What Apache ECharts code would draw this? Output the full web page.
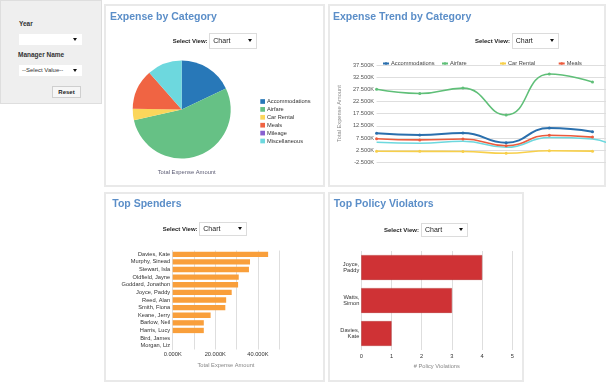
<!DOCTYPE html>
<html><head><meta charset="utf-8">
<script src="https://cdn.jsdelivr.net/npm/echarts@6/dist/echarts.min.js"></script>
<style>
html,body{margin:0;padding:0;background:#fff;width:608px;height:389px;overflow:hidden;font-family:"Liberation Sans",Arial,sans-serif;}
.panel{position:absolute;background:#fff;box-shadow:inset 0 0 0 2px #e9e9e9;overflow:hidden;}
.filter{position:absolute;left:0;top:0;width:102px;height:104px;background:#efefef;box-shadow:inset 0 0 0 1px #dedede;}
.lbl{position:absolute;font-size:6.5px;font-weight:bold;color:#333;white-space:nowrap;line-height:8px;}
.title{position:absolute;font-size:10.5px;font-weight:bold;color:#5b8ec8;white-space:nowrap;line-height:12px;z-index:2;}
.sv{position:absolute;font-size:6px;font-weight:bold;color:#222;white-space:nowrap;line-height:8px;z-index:2;}
.sel{position:absolute;background:#fff;border:1px solid #dcdcdc;box-sizing:border-box;color:#222;z-index:2;}
.sel .t{position:absolute;left:3px;top:50%;transform:translateY(-50%);line-height:8px;font-size:7px;white-space:nowrap;}
.sel .a{position:absolute;right:4px;top:50%;margin-top:-1.5px;width:0;height:0;border-left:2.5px solid transparent;border-right:2.5px solid transparent;border-top:3px solid #111;}
.btn{position:absolute;left:52px;top:86px;width:29px;height:12px;background:#f6f6f6;border:1px solid #cfcfcf;box-sizing:border-box;font-size:6px;font-weight:bold;color:#222;text-align:center;line-height:10px;}
.chart{position:absolute;left:0;top:0;}
</style>
</head><body>

<div class="filter">
  <div class="lbl" style="left:19px;top:20px;">Year</div>
  <div class="sel" style="left:19px;top:34px;width:63px;height:11px;border-color:#fff;"><span class="a"></span></div>
  <div class="lbl" style="left:18px;top:51px;">Manager Name</div>
  <div class="sel" style="left:19px;top:64.5px;width:63px;height:11px;border-color:#fff;"><span class="t" style="font-size:6px;left:2px;color:#333">--Select Value--</span><span class="a"></span></div>
  <div class="btn">Reset</div>
</div>

<div class="panel" style="left:104px;top:4px;width:221px;height:183px;">
  <div class="chart" id="pie" style="width:221px;height:183px;"></div>
  <div class="title" style="left:6px;top:6px;">Expense by Category</div>
  <div class="sv" style="left:68.7px;top:33.3px;">Select View:</div>
  <div class="sel" style="left:105.3px;top:29.3px;width:47.4px;height:15.4px;"><span class="t">Chart</span><span class="a"></span></div>
</div>

<div class="panel" style="left:328px;top:4px;width:278px;height:183px;">
  <div class="chart" id="trend" style="width:330px;height:183px;"></div>
  <div class="title" style="left:5px;top:6px;">Expense Trend by Category</div>
  <div class="sv" style="left:147px;top:33.3px;">Select View:</div>
  <div class="sel" style="left:183.7px;top:29.3px;width:47px;height:15.4px;"><span class="t">Chart</span><span class="a"></span></div>
</div>

<div class="panel" style="left:104px;top:192px;width:221px;height:190px;">
  <div class="chart" id="spend" style="width:221px;height:190px;"></div>
  <div class="title" style="left:8.3px;top:5.3px;">Top Spenders</div>
  <div class="sv" style="left:58.7px;top:32.9px;">Select View:</div>
  <div class="sel" style="left:95.3px;top:29.7px;width:47.4px;height:14.3px;"><span class="t">Chart</span><span class="a"></span></div>
</div>

<div class="panel" style="left:328px;top:192px;width:196px;height:190px;">
  <div class="chart" id="policy" style="width:196px;height:190px;"></div>
  <div class="title" style="left:5.7px;top:5.3px;">Top Policy Violators</div>
  <div class="sv" style="left:56px;top:33.7px;">Select View:</div>
  <div class="sel" style="left:93px;top:30.7px;width:47px;height:14px;"><span class="t">Chart</span><span class="a"></span></div>
</div>

<script>
// ---- data ----
const pieCategories = ['Accommodations','Airfare','Car Rental','Meals','Mileage','Miscellaneous'];
const pieValues = [56.0, 167.5, 11.7, 41.6, 0, 35.9];
const pieColors = ['#2878b8','#66c185','#fbd65b','#f06443','#8860d0','#6dd8de'];

const trendPeriods = ['1','2','3','4','5','6','7'];
const trendAccommodations = [9420, 8720, 9550, 5560, 11600, 10080, null];
const trendAirfare = [27500, 25800, 28000, 16950, 33800, 30500, null];
const trendCarRental = [2050, 2000, 1950, 1200, 2270, 2080, null];
const trendMeals = [7200, 6700, 7100, 4330, 8650, 7850, null];
const trendMiscellaneous = [5720, 5310, 6130, 3660, 7700, 7100, -3000];

const spenderNames = ['Davies, Kate','Murphy, Sinead','Stewart, Isla','Oldfield, Jayne','Goddard, Jonathon','Joyce, Paddy','Reed, Alan','Smith, Fiona','Keane, Jerry','Barlow, Neil','Harris, Lucy','Bird, James','Morgan, Liz'];
const spenderValues = [44800, 36300, 35800, 31000, 30700, 27700, 25100, 24700, 17800, 14600, 14600, 0, 0];

const violatorNames = ['Joyce,\nPaddy','Watts,\nSimon','Davies,\nKate'];
const violatorValues = [4, 3, 1];

const FONT = '"Liberation Sans", Arial, sans-serif';

// ---- pie ----
const pie = echarts.init(document.getElementById('pie'), null, {renderer:'canvas'});
pie.setOption({
  animation:false,
  color: pieColors,
  title: {text:'Total Expense Amount', left:77.7, top:160.5, textAlign:'center',
    textStyle:{fontFamily:FONT, fontSize:5.8, fontWeight:'normal', color:'#5c5c74'}},
  legend: {orient:'vertical', left:151.3, top:89.5, itemWidth:4.7, itemHeight:4.7, itemGap:1.9,
    icon:'rect', data: pieCategories, textStyle:{fontFamily:FONT, fontSize:5.7, color:'#333', padding:[0,0,0,-3]}},
  series: [{type:'pie', center:[77.7,105.5], radius:49, startAngle:90, clockwise:true,
    label:{show:false}, labelLine:{show:false}, emphasis:{disabled:true},
    data: pieCategories.map((n,i)=>({name:n, value:pieValues[i]}))}]
});

// ---- trend ----
const trend = echarts.init(document.getElementById('trend'));
const trendNames = ['Accommodations','Airfare','Car Rental','Meals','Miscellaneous'];
const trendData = [trendAccommodations, trendAirfare, trendCarRental, trendMeals, trendMiscellaneous];
const trendColors = ['#2a6fad','#5fbf78','#f7cf4a','#ec5b3d','#6dd8de'];
const legendX = [52, 111, 169, 227.7];
trend.setOption({
  animation:false,
  color: trendColors,
  legend: legendX.map((x,i)=>({data:[trendNames[i]], left:x-3, top:51.5, itemWidth:6, itemHeight:3,
    textStyle:{fontFamily:FONT, fontSize:5.7, color:'#444', padding:[0,0,0,-3]}})),
  grid: {left:46.7, top:61, width:261, height:97.3, containLabel:false},
  xAxis: {type:'category', data:trendPeriods, boundaryGap:false,
    axisLine:{show:false}, axisTick:{show:false}, axisLabel:{show:false}, splitLine:{show:false}},
  yAxis: {type:'value', min:-2500, max:37500, interval:5000,
    name:'Total Expense Amount', nameLocation:'middle', nameGap:31, nameRotate:90,
    nameTextStyle:{fontFamily:FONT, fontSize:5.7, color:'#888'},
    axisLine:{show:false}, axisTick:{show:false},
    axisLabel:{fontFamily:FONT, fontSize:5.7, color:'#555', margin:2.5,
      formatter:v=>(v/1000).toFixed(3)+'K'},
    splitLine:{lineStyle:{color:'#dedede', width:1}}},
  series: trendNames.map((n,i)=>({name:n, type:'line', data:trendData[i], smooth:true,
    symbol:'circle', symbolSize: i===4 ? 0 : 3, showSymbol: i!==4,
    lineStyle:{width: i===0 ? 2 : 1.6}, emphasis:{disabled:true}, z: 10-i}))
});

// ---- spenders ----
const spend = echarts.init(document.getElementById('spend'));
spend.setOption({
  animation:false,
  grid:{left:68.7, top:58.5, width:106.5, height:99},
  xAxis:{type:'value', min:0, max:50000, interval:10000,
    name:'Total Expense Amount', nameLocation:'middle', nameGap:11,
    nameTextStyle:{fontFamily:FONT, fontSize:5.7, color:'#888'},
    axisLine:{show:false}, axisTick:{show:false},
    axisLabel:{fontFamily:FONT, fontSize:5.7, color:'#333', margin:2,
      formatter:v=> v%20000===0 ? (v/1000).toFixed(3)+'K' : ''},
    splitLine:{lineStyle:{color:'#dedede'}}},
  yAxis:{type:'category', data:spenderNames, inverse:true,
    axisLine:{show:true, lineStyle:{color:'#dedede'}}, axisTick:{show:false},
    axisLabel:{fontFamily:FONT, fontSize:5.7, color:'#333', margin:2.5, interval:0}},
  series:[{type:'bar', data:spenderValues, barCategoryGap:'30%', itemStyle:{color:'#f99f3b'}, emphasis:{disabled:true}}]
});

// ---- policy ----
const policy = echarts.init(document.getElementById('policy'));
policy.setOption({
  animation:false,
  grid:{left:33.3, top:59, width:151, height:99},
  xAxis:{type:'value', min:0, max:5, interval:1,
    name:'# Policy Violations', nameLocation:'middle', nameGap:11,
    nameTextStyle:{fontFamily:FONT, fontSize:5.7, color:'#888'},
    axisLine:{show:false}, axisTick:{show:false},
    axisLabel:{fontFamily:FONT, fontSize:5.7, color:'#333', margin:3},
    splitLine:{lineStyle:{color:'#dedede'}}},
  yAxis:{type:'category', data:violatorNames, inverse:true,
    axisLine:{show:false}, axisTick:{show:false},
    axisLabel:{fontFamily:FONT, fontSize:5.7, color:'#333', margin:2, lineHeight:6.5, align:'right'}},
  series:[{type:'bar', data:violatorValues, barCategoryGap:'25%',
    itemStyle:{color:'#cf3235', borderColor:'#b52828', borderWidth:0.5}, emphasis:{disabled:true}}]
});
</script>
</body></html>
